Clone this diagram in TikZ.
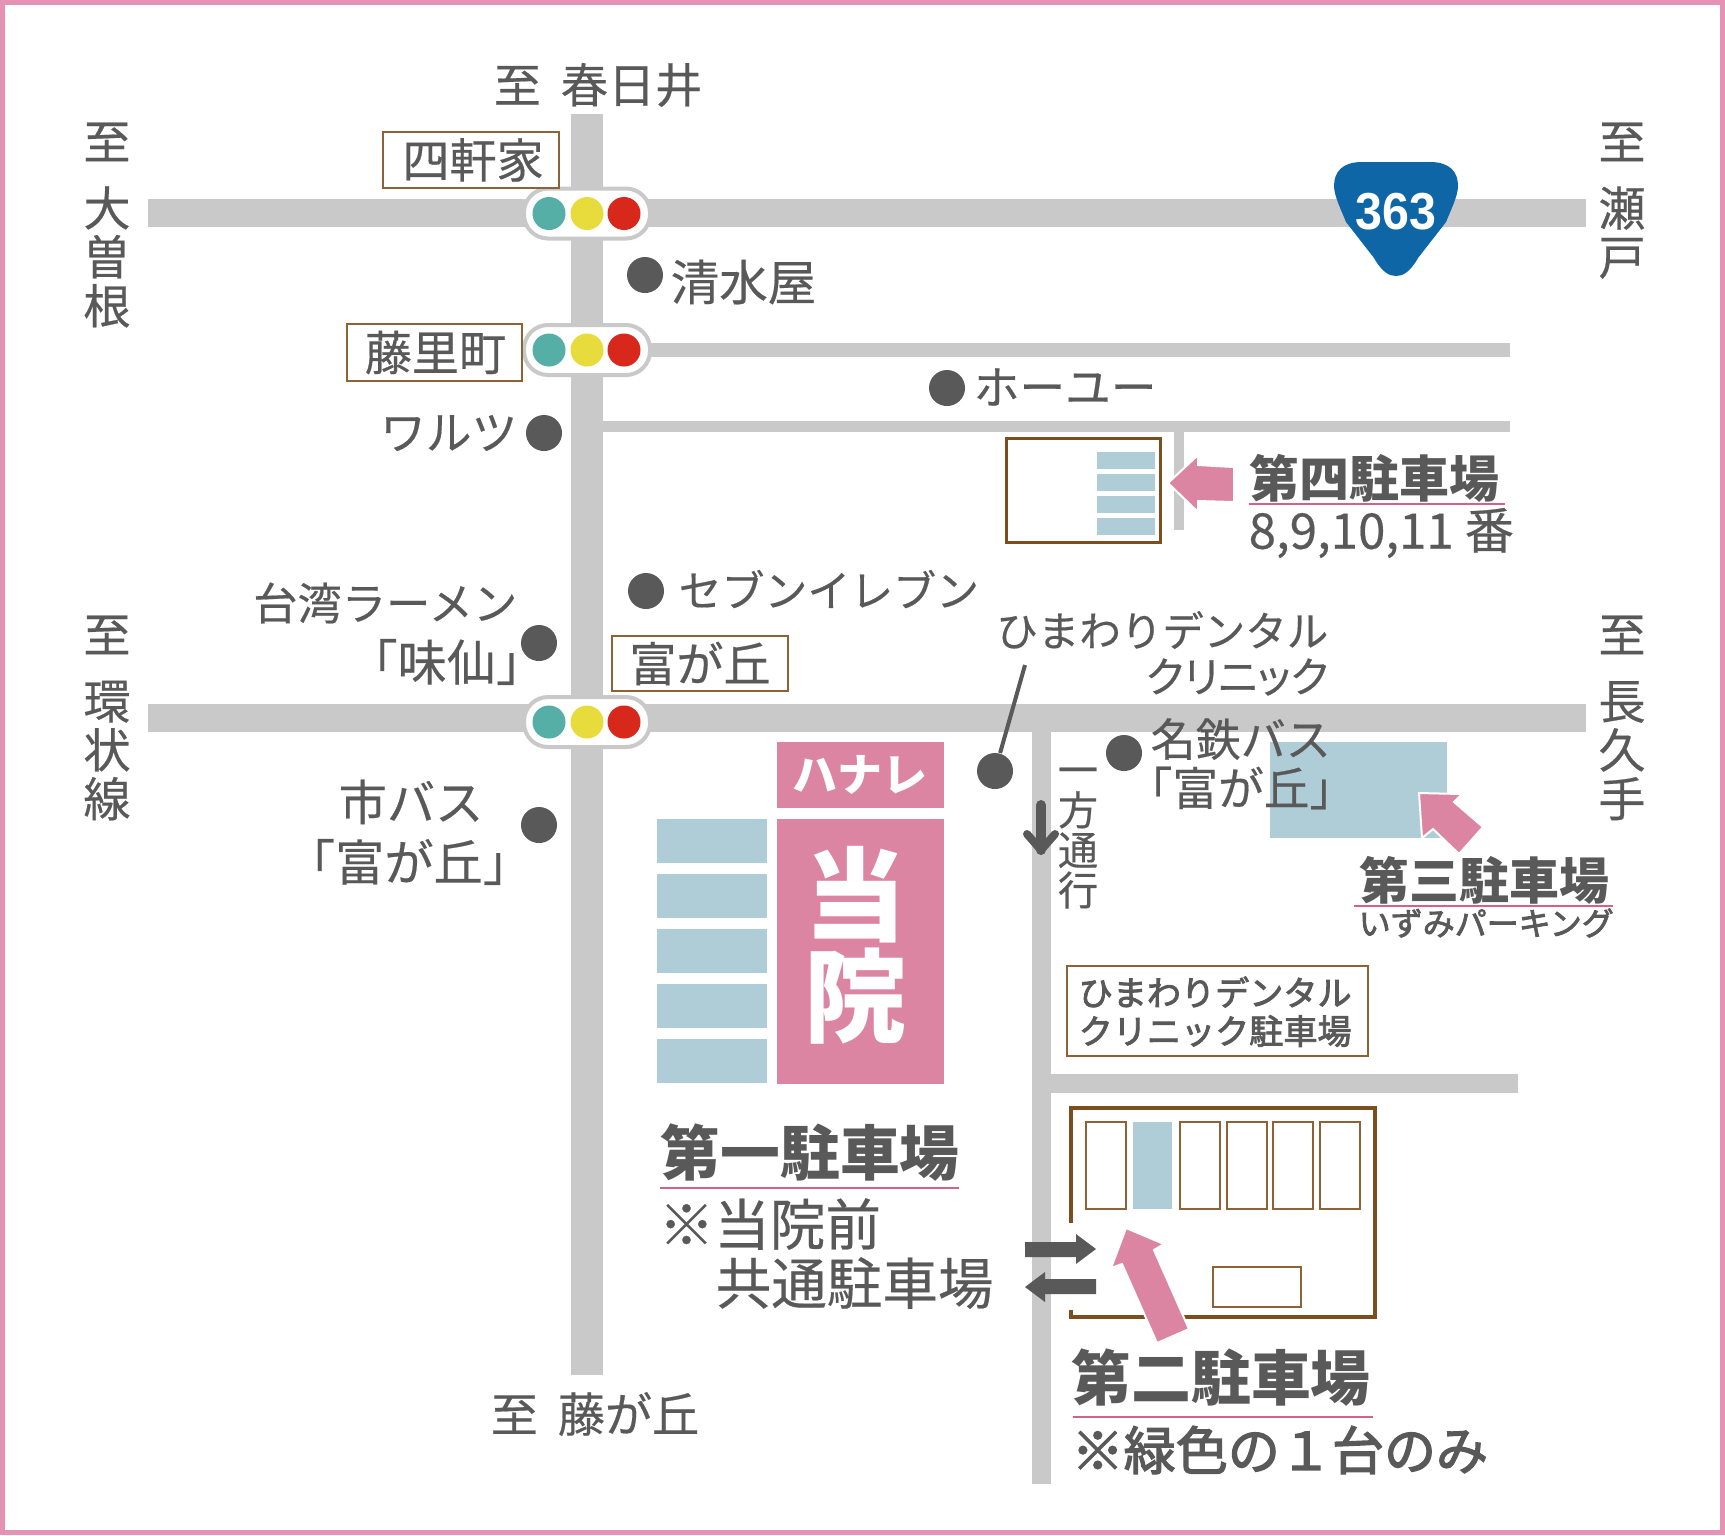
\documentclass[tikz,border=0pt]{standalone}
\usepackage{fontspec}
\setmainfont[FakeBold=0.4,BoldFeatures={FakeBold=0}]{Noto Sans CJK JP}
\newfontfamily\medfont[FakeBold=2.5]{Noto Sans CJK JP}
\newfontfamily\paltfont[FakeBold=0.4,RawFeature=+palt]{Noto Sans CJK JP}
\newfontfamily\shieldfont{Liberation Sans}
\usepackage{xcolor}
\definecolor{framepink}{HTML}{E593B5}
\definecolor{roadgray}{HTML}{C9C9C9}
\definecolor{inkgray}{HTML}{595959}
\definecolor{brownline}{HTML}{7B4F1D}
\definecolor{thinbrown}{HTML}{8F6235}
\definecolor{slotblue}{HTML}{AFCDD7}
\definecolor{hospink}{HTML}{DC85A3}
\definecolor{linepink}{HTML}{D6608A}
\definecolor{shieldblue}{HTML}{0F66A6}
\definecolor{siggreen}{HTML}{55AFA6}
\definecolor{sigyellow}{HTML}{E8DC3C}
\definecolor{sigred}{HTML}{D8281C}
\tikzset{
  road/.style={fill=roadgray},
  slot/.style={fill=slotblue},
  lab/.style={inner sep=0pt, text=inkgray, font=\fontsize{13.4}{13.9}\selectfont},
  vlab/.style={lab, align=center, anchor=north},
  smalllab/.style={lab, font=\fontsize{12}{13}\selectfont},
  headlab/.style={inner sep=0pt, text=inkgray, font=\fontsize{17}{20}\selectfont\bfseries},
  subhead/.style={inner sep=0pt, text=inkgray, font=\fontsize{14.2}{16}\selectfont\bfseries},
  medlab/.style={inner sep=0pt, text=inkgray, font=\fontsize{9.7}{11.2}\selectfont\medfont},
  spot/.style={circle, fill=inkgray, inner sep=0pt, minimum size=0.36cm},
  lamp/.style={circle, inner sep=0pt, minimum size=0.33cm},
  namebox/.style={draw=thinbrown, line width=0.018cm, fill=white},
  parkbox/.style={draw=brownline, line width=0.03cm},
  bay/.style={draw=thinbrown, line width=0.018cm},
  pinkarrow/.style={fill=hospink, draw=white, line width=0.02cm},
  grayarrow/.style={fill=inkgray},
  underl/.style={draw=linepink, line width=0.025cm}
}
\begin{document}
\begin{tikzpicture}[x=0.01cm, y=-0.01cm]
    \useasboundingbox (0,0) rectangle (1725,1535);
    \draw[framepink, line width=0.05cm] (2.5,2.5) rectangle (1722.5,1532.5);

    % Roads
    \fill[road] (571,114) rectangle (603,1375);
    \fill[road] (148,199) rectangle (1586,227);
    \fill[road] (148,704) rectangle (1586,732);
    \fill[road] (603,343) rectangle (1510,357);
    \fill[road] (603,421) rectangle (1510,432);
    \fill[road] (1174,432) rectangle (1184,530);
    \fill[road] (1032,732) rectangle (1051,1484);
    \fill[road] (1051,1074) rectangle (1518,1093);

    % Signals
    \foreach \name/\sx/\sy/\hw/\hh in {a/587/213.5/63/25, b/587/350/63/25, c/587/722/63/25} {
        \draw[roadgray, fill=white, line width=0.04cm, rounded corners=0.24cm]
            ({\sx-\hw},{\sy-\hh}) rectangle ({\sx+\hw},{\sy+\hh});
        \node[lamp, fill=siggreen] (green\name) at ({\sx-38},\sy) {};
        \node[lamp, fill=sigyellow] (yellow\name) at (\sx,\sy) {};
        \node[lamp, fill=sigred] (red\name) at ({\sx+37},\sy) {};
    }

    % Route shield
    \fill[shieldblue] (1362,162) -- (1430,162)
        .. controls (1450,162) and (1458,172) .. (1458,186)
        .. controls (1458,196) and (1450,212) .. (1446,222)
        -- (1418,258) .. controls (1410,272) and (1403,276) .. (1396,276)
        .. controls (1389,276) and (1382,272) .. (1374,258)
        -- (1346,222) .. controls (1342,212) and (1334,196) .. (1334,186)
        .. controls (1334,172) and (1342,162) .. (1362,162) -- cycle;
    \node[inner sep=0pt, text=white, font=\fontsize{14.8}{16}\selectfont\shieldfont\bfseries] (route) at (1396,212) {\scalebox{.93}[1]{363}};

    % Direction labels
    \node[lab] (kasugai) at (598,85) {至\hspace{0.2cm}春日井};
    \node[lab] (fujigaoka) at (595,1414) {至\hspace{0.2cm}藤が丘};
    \node[vlab] (osone) at (107,122) {至\\[5pt]大\\曽\\根};
    \node[vlab] (kanjo) at (107,615) {至\\[5pt]環\\状\\線};
    \node[vlab] (seto) at (1622,122) {至\\[5pt]瀬\\戸};
    \node[vlab] (nagakute) at (1622,615) {至\\[5pt]長\\久\\手};

    % Crossing names
    \node[lab, namebox, minimum width=1.76cm, minimum height=0.56cm] (yonken) at (471,160) {\hspace{0.04cm}\raisebox{-0.03cm}{四軒家}};
    \node[lab, namebox, minimum width=1.75cm, minimum height=0.57cm] (fujisato) at (434.5,352.5) {\hspace{0.02cm}\raisebox{-0.03cm}{藤里町}};
    \node[lab, namebox, minimum width=1.76cm, minimum height=0.55cm] (tomi) at (700,663.5) {富が丘};

    % Landmarks
    \node[spot] (shimizu) at (645,275) {};
    \node[lab, font=\fontsize{13.8}{15}\selectfont, anchor=west] (shimizut) at (670,282) {清水屋};
    \node[spot] (waruts) at (544,433) {};
    \node[lab, font=\fontsize{13}{15}\selectfont, anchor=east] (warutst) at (518,433) {ワルツ};
    \node[spot] (hoyu) at (947,388) {};
    \node[lab, font=\fontsize{13}{15}\selectfont, anchor=west] (hoyut) at (973,387) {ホーユー};
    \node[spot] (seven) at (646,591) {};
    \node[smalllab, font=\fontsize{12.2}{13}\selectfont, anchor=west] (sevent) at (678,589) {セブンイレブン};
    \node[spot] (ajisen) at (539,643) {};
    \node[smalllab, font=\fontsize{12.6}{13}\selectfont, anchor=east] (ramen) at (518,603) {台湾ラーメン};
    \node[lab, font=\fontsize{14}{15}\selectfont, anchor=east] (ajisent) at (546,662) {「味仙」};
    \node[spot] (shibus) at (539,825) {};
    \node[lab, font=\fontsize{13.7}{15}\selectfont] (shibust) at (411,802) {市バス};
    \node[lab, font=\fontsize{14}{15}\selectfont] (shibust2) at (409,862) {「富が丘」};

    % Clinic
    \node[spot] (clinic) at (995,771) {};
    \coordinate (cliniclead) at (1025,665);
    \draw[inkgray, line width=0.04cm] (clinic) -- (cliniclead);
    \node[smalllab, font=\fontsize{11.8}{13}\selectfont, anchor=east] (clinict) at (1329,630) {ひまわりデンタル};
    \node[smalllab, font=\fontsize{12}{13}\selectfont\paltfont, anchor=east] (clinict2) at (1329,677) {クリニック};

    % Third parking
    \fill[slot] (1270,742) rectangle (1447,838);
    \node[spot] (meitetsu) at (1124,753) {};
    \node[lab, font=\fontsize{12.8}{15}\selectfont, anchor=west] (meitetsut) at (1150,739) {名鉄バス};
    \node[lab, font=\fontsize{13}{15}\selectfont, anchor=west] (meitetsut2) at (1126,788) {「富が丘」};
    \draw[pinkarrow] (1419,793) -- (1462,794) -- (1454,802) -- (1483,827) -- (1459,854) -- (1433,829) -- (1422,838) -- cycle;
    \node[subhead, anchor=west] (third) at (1359,880) {第三駐車場};
    \draw[underl] (1354,906) -- (1613,906);
    \node[medlab, font=\fontsize{9.1}{11}\selectfont\medfont, anchor=west] (izumi) at (1358,923) {いずみパーキング};

    % One way
    \node[smalllab, font=\fontsize{11.4}{11.4}\selectfont, align=center, anchor=north] (oneway) at (1078,767) {一\\方\\通\\行};
    \coordinate (owtop) at (1041,805);
    \coordinate (owtip) at (1041,850);
    \draw[inkgray, line width=0.1cm, line cap=round] (owtop) -- (owtip);
    \draw[inkgray, line width=0.08cm, line cap=round, line join=round] (1027,834) -- (owtip) -- (1055,834);

    % Fourth parking
    \draw[parkbox] (1006,438) rectangle (1160,542);
    \foreach \yy in {452,474,496,518}
        \fill[slot] (1097,\yy) rectangle (1155,{\yy+17});
    \draw[pinkarrow] (1168,483) -- (1198,455) -- (1198,465) -- (1234,467) -- (1234,502) -- (1198,501) -- (1198,512) -- cycle;
    \node[subhead, anchor=west] (fourth) at (1249,478) {第四駐車場};
    \draw[underl] (1249,504) -- (1505,504);
    \node[lab, font=\fontsize{14}{16}\selectfont, anchor=west] (fourthsub) at (1248,533) {8,9,10,11 番};

    % Hospital
    \fill[hospink] (777,742) rectangle (944,808);
    \fill[hospink] (777,819) rectangle (944,1084);
    \node[inner sep=0pt, text=white, font=\fontsize{12.8}{15}\selectfont\bfseries] (hanare) at (860,775) {ハナレ};
    \node[inner sep=0pt, text=white, font=\fontsize{29}{28.6}\selectfont\bfseries, align=center] (hosp) at (855,945) {当\\院};
    \foreach \yy in {819,874,929,984,1039}
        \fill[slot] (657,\yy) rectangle (767,{\yy+44});

    % First parking
    \node[headlab, anchor=west] (first) at (660,1153) {第一駐車場};
    \draw[underl] (660,1188) -- (959,1188);
    \node[inner sep=0pt, text=inkgray, font=\fontsize{15.8}{17}\selectfont, anchor=west] (firsta) at (658,1224) {※当院前};
    \node[inner sep=0pt, text=inkgray, font=\fontsize{15.8}{17}\selectfont, anchor=west] (firstb) at (715,1283) {共通駐車場};

    % Dental parking label
    \node[namebox, minimum width=3.01cm, minimum height=0.9cm] (dental) at (1217.5,1011) {};
    \node[medlab, anchor=west] (dentala) at (1078,992) {ひまわりデンタル};
    \node[medlab, anchor=west] (dentalb) at (1078,1031) {クリニック駐車場};

    % Second parking
    \draw[brownline, line width=0.047cm] (1071,1223) -- (1071,1108) -- (1375,1108) -- (1375,1317) -- (1071,1317) -- (1071,1310);
    \foreach \bx in {1086,1180,1227,1273,1320}
        \draw[bay] (\bx,1122) rectangle ({\bx+40},1209);
    \fill[slot] (1133,1122) rectangle (1172,1209);
    \draw[bay] (1213,1267) rectangle (1301,1307);
    \fill[grayarrow] (1025,1242) -- (1076,1242) -- (1076,1234) -- (1096,1249) -- (1076,1264) -- (1076,1257) -- (1025,1257) -- cycle;
    \fill[grayarrow] (1096,1279) -- (1045,1279) -- (1045,1272) -- (1025,1287) -- (1045,1302) -- (1045,1294) -- (1096,1294) -- cycle;
    \draw[pinkarrow] (1126,1228) -- (1164,1244) -- (1154,1250) -- (1189,1329) -- (1157,1343) -- (1122,1264) -- (1111,1268) -- cycle;
    \node[headlab, anchor=west] (second) at (1071,1378) {第二駐車場};
    \draw[underl] (1073,1417) -- (1373,1417);
    \node[inner sep=0pt, text=inkgray, font=\fontsize{14.8}{17}\selectfont\medfont, anchor=west] (secondsub) at (1071,1450) {※緑色の１台のみ};
\end{tikzpicture}
\end{document}
